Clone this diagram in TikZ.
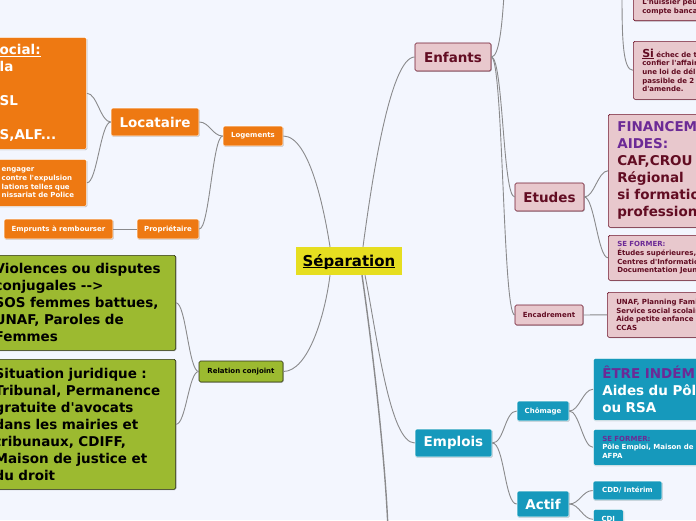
\documentclass[tikz,border=0pt]{standalone}
\usepackage{fontspec}
\setmainfont{DejaVu Sans}[Ligatures=TeXOff]
\usetikzlibrary{shadows}

\begin{document}
\begin{tikzpicture}[x=1pt, y=-1pt, every node/.style={font=\bfseries}]
			% Define colors
			\definecolor{bg_col}{RGB}{243, 246, 254}
			\definecolor{root_col}{RGB}{230, 222, 32}
			\definecolor{orange_col}{RGB}{238, 121, 18}
			\definecolor{green_col}{RGB}{156, 186, 48}
			\definecolor{green_line}{RGB}{45, 50, 20}
			\definecolor{pink_col}{RGB}{232, 200, 205}
			\definecolor{pink_line}{RGB}{112, 22, 44}
			\definecolor{pink_text}{RGB}{98, 12, 34}
			\definecolor{teal_col}{RGB}{22, 153, 188}
			\definecolor{purple_text}{RGB}{108, 42, 150}
			\definecolor{line_col}{RGB}{138, 138, 140}

			% Styles
			\tikzstyle{base_box} = [rounded corners=1.5pt, line width=0.6pt, inner sep=0pt, drop shadow={shadow xshift=0.7pt, shadow yshift=-0.7pt, opacity=0.3, fill=black}]
			\tikzstyle{big_txt} = [font=\fontsize{13.5}{17}\selectfont\bfseries]
			\tikzstyle{small_txt} = [font=\fontsize{7}{8.7}\selectfont\bfseries]
			\tikzstyle{root_box} = [fill=root_col, text=black, font=\fontsize{15}{18}\selectfont\bfseries, minimum width=106pt, minimum height=28pt, inner sep=0pt]
			\tikzstyle{orange_box} = [base_box, fill=orange_col, draw=white, text=white]
			\tikzstyle{green_box} = [base_box, fill=green_col, draw=green_line, text=black]
			\tikzstyle{pink_box} = [base_box, fill=pink_col, draw=pink_line, text=pink_text]
			\tikzstyle{teal_box} = [base_box, fill=teal_col, draw=white, text=white]
			\tikzstyle{note_box} = [align=left, inner xsep=9pt]
			\tikzstyle{branch_line} = [draw=line_col, line width=0.9pt]

			% Frame
			\useasboundingbox (0,0) rectangle (696,520);
			\clip (0,0) rectangle (696,520);
			\fill[bg_col] (0,0) rectangle (696,520);

			% Centre
			\node[root_box] (sep) at (349,261) {\underline{\raisebox{0pt}[\height][0pt]{Séparation}}};

			% Logements (left, top)
			\node[orange_box, small_txt, minimum width=60pt, minimum height=20pt] (logements) at (253,136) {Logements};
			\node[orange_box, big_txt, minimum width=88pt, minimum height=28pt] (locataire) at (155,122) {Locataire};
			\node[orange_box, small_txt, minimum width=62pt, minimum height=20pt] (proprietaire) at (168,229) {Propriétaire};
			\node[orange_box, small_txt, minimum width=109pt, minimum height=20pt] (emprunts) at (58.5,229) {Emprunts à rembourser};
			\node[orange_box, big_txt, note_box, anchor=north east, inner xsep=6pt, text width=81pt, minimum height=112pt] (social) at (87,37) {\underline{ocial:}\\la\\\mbox{}\\SL\\\mbox{}\\S,ALF...};
			\node[orange_box, small_txt, note_box, anchor=north east, inner xsep=5pt, text width=80pt, minimum height=47pt] (expulsion) at (87,159) {engager\\contre l'expulsion\\lations telles que\\nissariat de Police};

			% Relation conjoint (left, bottom)
			\node[green_box, small_txt, minimum width=84pt, minimum height=21pt] (relation) at (241,371.5) {Relation conjoint};
			\node[green_box, big_txt, note_box, anchor=north east, inner xsep=6pt, text width=175pt, minimum height=95pt] (violences) at (176,255) {Violences ou disputes\\conjugales -->\\SOS femmes battues,\\UNAF, Paroles de\\Femmes};
			\node[green_box, big_txt, note_box, anchor=north east, inner xsep=6pt, text width=175pt, minimum height=130pt] (juridique) at (176,359) {Situation juridique :\\Tribunal, Permanence\\gratuite d'avocats\\dans les mairies et\\tribunaux, CDIFF,\\Maison de justice et\\du droit};

			% Enfants (right, top)
			\node[pink_box, big_txt, minimum width=76pt, minimum height=28pt] (enfants) at (453,57) {Enfants};
			\node[pink_box, small_txt, note_box, anchor=south west, text width=140pt, minimum height=27pt] (huissier) at (633,21) {L'huissier peu\\compte banca};
			\node[pink_box, small_txt, note_box, anchor=north west, text width=140pt, minimum height=58pt] (echec) at (633,41) {{\fontsize{11}{11}\selectfont\underline{Si}}\ échec de t\\confier l'affair\\une loi de déli\\passible de 2 a\\d'amende.};
			\node[pink_box, big_txt, minimum width=69pt, minimum height=28pt] (etudes) at (549.5,197) {Etudes};
			\node[pink_box, big_txt, note_box, anchor=north west, text width=140pt, minimum height=113pt] (financement) at (608,114) {\textcolor{purple_text}{FINANCEM}\\\textcolor{purple_text}{AIDES:}\\CAF,CROU\\Régional\\si formatio\\profession};
			\node[pink_box, small_txt, note_box, anchor=north west, text width=140pt, minimum height=45pt] (se_former) at (608,235) {\textcolor{purple_text}{SE FORMER:}\\Études supérieures,\\Centres d'Informatio\\Documentation Jeun};
			\node[pink_box, small_txt, minimum width=68pt, minimum height=20pt] (encadrement) at (549,315) {Encadrement};
			\node[pink_box, small_txt, note_box, anchor=north west, text width=140pt, minimum height=45pt] (unaf) at (607,292) {UNAF, Planning Famil\\Service social scolair\\Aide petite enfance (\\CCAS};

			% Emplois (right, bottom)
			\node[teal_box, big_txt, minimum width=77pt, minimum height=28pt] (emplois) at (453.5,443) {Emplois};
			\node[teal_box, small_txt, minimum width=52pt, minimum height=20pt] (chomage) at (543,411) {Chômage};
			\node[teal_box, big_txt, minimum width=52pt, minimum height=26pt] (actif) at (543,504) {Actif};
			\node[teal_box, big_txt, note_box, anchor=north west, text width=140pt, minimum height=62pt] (indemnise) at (593,358) {\textcolor{purple_text}{ÊTRE INDÉM}\\Aides du Pôl\\ou RSA};
			\node[teal_box, small_txt, note_box, anchor=north west, text width=140pt, minimum height=36pt] (se_former_emploi) at (593,429) {\textcolor{purple_text}{SE FORMER:}\\Pôle Emploi, Maison de l\\AFPA};
			\node[teal_box, small_txt, minimum width=69pt, minimum height=19pt] (cdd) at (627.5,490.5) {CDD/ Intérim};
			\node[teal_box, small_txt, anchor=north west, minimum width=30pt, minimum height=20pt] (cdi) at (593,509) {CDI};

			% Branch ends outside the frame
			\coordinate (off_bottom) at (388,530);
			\coordinate (off_top) at (504,-5);
			\coordinate (off_parent) at (622,-5);

			% Branches from the centre
			\draw[branch_line] ([xshift=-19pt]sep.north) .. controls +(-5,-32) and +(27,0) .. (logements.east);
			\draw[branch_line] ([xshift=14pt]sep.north) .. controls +(8,-60) and +(-25,0) .. (enfants.west);
			\draw[branch_line] ([xshift=-19pt]sep.south) .. controls +(-5,40) and +(25,0) .. (relation.east);
			\draw[branch_line] ([xshift=16pt]sep.south) .. controls +(12,60) and +(-25,0) .. (emplois.west);
			\draw[branch_line, line width=1.4pt] ([xshift=13pt]sep.south) .. controls +(8,55) and +(-3,-80) .. (off_bottom);

			% Left branches
			\draw[branch_line] (logements.west) .. controls +(-10,0) and +(10,0) .. (locataire.east);
			\draw[branch_line] (logements.west) .. controls +(-10,0) and +(10,0) .. (proprietaire.east);
			\draw[branch_line] (locataire.west) .. controls +(-10,0) and +(10,0) .. (social.east);
			\draw[branch_line] (locataire.west) .. controls +(-10,0) and +(10,0) .. (expulsion.east);
			\draw[branch_line] (proprietaire.west) -- (emprunts.east);
			\draw[branch_line] (relation.west) .. controls +(-10,0) and +(10,0) .. (violences.east);
			\draw[branch_line] (relation.west) .. controls +(-10,0) and +(10,0) .. (juridique.east);

			% Right branches
			\draw[branch_line] (enfants.east) .. controls +(8,0) and +(-2,30) .. (off_top);
			\draw[branch_line] (enfants.east) .. controls +(12,0) and +(-12,0) .. (etudes.west);
			\draw[branch_line] (enfants.east) .. controls +(12,0) and +(-12,0) .. (encadrement.west);
			\draw[branch_line] (off_parent) .. controls +(0,45) and +(-10,0) .. (echec.west);
			\draw[branch_line] (etudes.east) .. controls +(10,0) and +(-10,0) .. (financement.west);
			\draw[branch_line] (etudes.east) .. controls +(10,0) and +(-10,0) .. (se_former.west);
			\draw[branch_line] (encadrement.east) -- (unaf.west);
			\draw[branch_line] (emplois.east) .. controls +(12,0) and +(-12,0) .. (chomage.west);
			\draw[branch_line] (emplois.east) .. controls +(12,0) and +(-12,0) .. (actif.west);
			\draw[branch_line] (chomage.east) .. controls +(10,0) and +(-10,0) .. (indemnise.west);
			\draw[branch_line] (chomage.east) .. controls +(10,0) and +(-10,0) .. (se_former_emploi.west);
			\draw[branch_line] (actif.east) .. controls +(10,0) and +(-10,0) .. (cdd.west);
			\draw[branch_line] (actif.east) .. controls +(10,0) and +(-10,0) .. (cdi.west);

		\end{tikzpicture}
\end{document}
